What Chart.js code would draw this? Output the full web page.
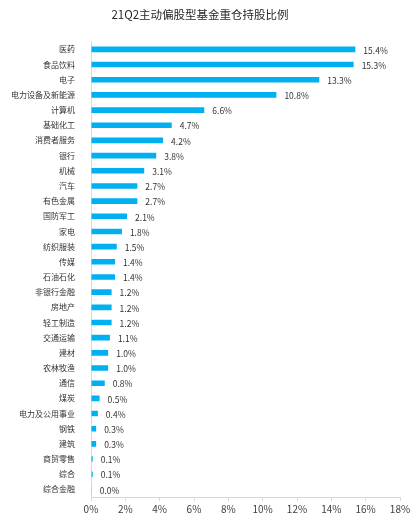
<!DOCTYPE html>
<html><head><meta charset="utf-8">
<script src="https://cdn.jsdelivr.net/npm/chart.js@4.4.0/dist/chart.umd.min.js"></script>
<style>html,body{margin:0;padding:0;background:#fff;}#wrap{width:413px;height:518px;}</style>
</head><body><div id="wrap"><canvas id="c"></canvas></div>
<script>
const titleText = '21Q2主动偏股型基金重仓持股比例';
const categories = ['医药','食品饮料','电子','电力设备及新能源','计算机','基础化工','消费者服务','银行','机械','汽车','有色金属','国防军工','家电','纺织服装','传媒','石油石化','非银行金融','房地产','轻工制造','交通运输','建材','农林牧渔','通信','煤炭','电力及公用事业','钢铁','建筑','商贸零售','综合','综合金融'];
const shares = [15.4,15.3,13.3,10.8,6.6,4.7,4.2,3.8,3.1,2.7,2.7,2.1,1.8,1.5,1.4,1.4,1.2,1.2,1.2,1.1,1.0,1.0,0.8,0.5,0.4,0.3,0.3,0.1,0.1,0.04];
const xTicks = [0,2,4,6,8,10,12,14,16,18];
</script>
<script>
const FONT = "'Noto Sans CJK SC', sans-serif";
const labelPlugin = {
  id: 'vlabels',
  afterDatasetsDraw(chart) {
    const ctx = chart.ctx;
    const meta = chart.getDatasetMeta(0);
    ctx.save();
    ctx.font = "8.5px " + FONT;
    ctx.fillStyle = '#333333';
    ctx.textAlign = 'left';
    ctx.textBaseline = 'middle';
    meta.data.forEach((bar, i) => {
      ctx.fillText(shares[i].toFixed(1) + '%', bar.x + 8, bar.y + 1);
    });
    ctx.restore();
  }
};
new Chart(document.getElementById('c'), {
  type: 'bar',
  data: { labels: categories, datasets: [{ data: shares, backgroundColor: '#00B0F0', borderWidth: 0, barPercentage: 0.37, categoryPercentage: 1 }] },
  options: {
    indexAxis: 'y',
    responsive: true, maintainAspectRatio: false, animation: false,
    layout: { padding: { left: 0, right: 13, top: 0, bottom: 0 } },
    plugins: {
      legend: { display: false }, tooltip: { enabled: false },
      title: { display: true, text: titleText, color: '#262626', font: { family: FONT, size: 11.5, weight: 'normal' }, padding: { top: 8, bottom: 20 } }
    },
    scales: {
      x: {
        min: 0, max: 18,
        afterBuildTicks(s) { s.ticks = xTicks.map(v => ({ value: v })); },
        afterFit(s) { s.height = 21; },
        grid: { display: true, drawOnChartArea: false, drawTicks: true, tickLength: 4, color: '#d9d9d9' },
        border: { display: true, color: '#d9d9d9' },
        ticks: { padding: 2, color: '#404040', font: { family: FONT, size: 10 }, maxRotation: 0, callback: v => v + '%' }
      },
      y: {
        afterFit(s) { s.width = 91; },
        grid: { display: false },
        border: { display: true, color: '#d9d9d9' },
        ticks: { padding: 8, color: '#333333', font: { family: FONT, size: 8 }, autoSkip: false }
      }
    }
  },
  plugins: [labelPlugin]
});
</script>
</body></html>
